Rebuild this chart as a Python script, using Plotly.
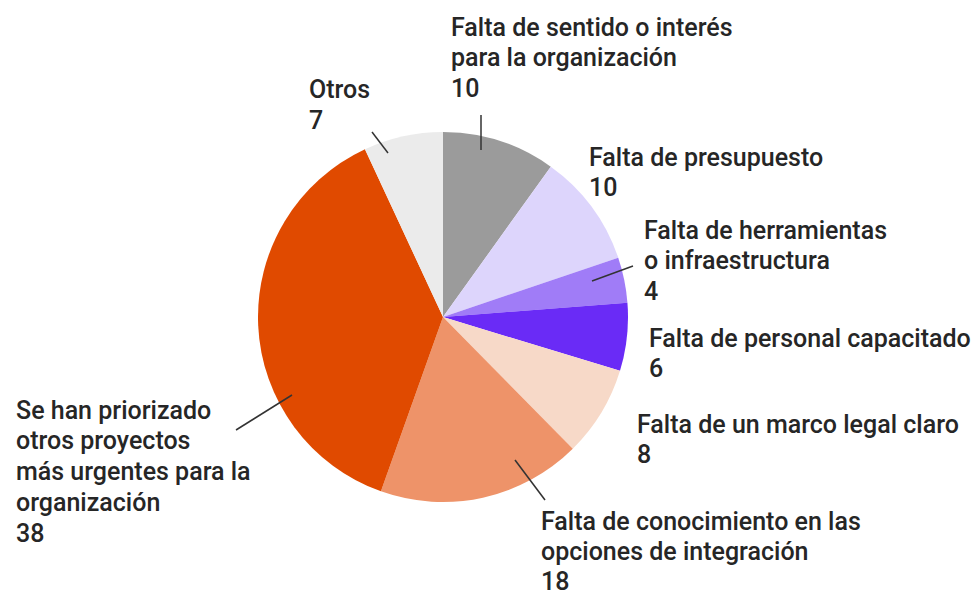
import plotly.graph_objects as go

W, H = 980, 596
OFF = 8  # page body margin offset

labels = [
    "Falta de sentido o interés para la organización",
    "Falta de presupuesto",
    "Falta de herramientas o infraestructura",
    "Falta de personal capacitado",
    "Falta de un marco legal claro",
    "Falta de conocimiento en las opciones de integración",
    "Se han priorizado otros proyectos más urgentes para la organización",
    "Otros",
]
values = [10, 10, 4, 6, 8, 18, 38, 7]
colors = ["#9b9b9b", "#ddd5fc", "#a07cf7", "#6a2bf6", "#f7d9c8", "#ee9369", "#e04a00", "#ebebeb"]

# label text lines (wrapped as in the reference)
label_lines = [
    ["Falta de sentido o interés", "para la organización"],
    ["Falta de presupuesto"],
    ["Falta de herramientas", "o infraestructura"],
    ["Falta de personal capacitado"],
    ["Falta de un marco legal claro"],
    ["Falta de conocimiento en las", "opciones de integración"],
    ["Se han priorizado", "otros proyectos", "más urgentes para la", "organización"],
    ["Otros"],
]

# layout: label anchor (left x, first-line center y) in pixels
label_pos = [(450, 27), (588, 157), (643, 230), (648, 338), (636, 424), (540, 521), (15, 410), (308, 90)]
# line spacing per label
line_h = [30.8, 30.8, 30.8, 30.8, 30.8, 30.0, 30.8, 30.8]
# leader lines in pixels (None = no line)
leaders = [((481, 115), (481, 150)), None, ((592, 281), (633, 266)), None, None,
           ((515, 460), (545, 500)), ((236, 430), (292, 395)), ((372, 132), (388, 153))]

FONT = dict(family="Roboto, 'Noto Sans', sans-serif", size=25, color="#262626", weight=500)

cx, cy, r = 443, 317, 185

def px(x):
    return (x - OFF) / W

def py(y):
    return 1 - (y - OFF) / H

fig = go.Figure(go.Pie(
    labels=labels,
    values=values,
    marker=dict(colors=colors, line=dict(width=0)),
    sort=False,
    direction="clockwise",
    rotation=0,
    textinfo="none",
    hoverinfo="label+value",
    domain=dict(x=[px(cx - r), px(cx + r)], y=[py(cy + r), py(cy - r)]),
    showlegend=False,
))

annotations = []
for lines, v, (lx, ly), lh in zip(label_lines, values, label_pos, line_h):
    for i, t in enumerate(lines + [str(v)]):
        annotations.append(dict(
            x=px(lx), y=py(ly + i * lh), xref="paper", yref="paper",
            xanchor="left", yanchor="middle", text=t, showarrow=False,
            font=FONT, align="left", borderpad=0,
        ))

shapes = []
for ld in leaders:
    if ld is None:
        continue
    (x0, y0), (x1, y1) = ld
    shapes.append(dict(type="line", xref="paper", yref="paper",
                       x0=px(x0), y0=py(y0), x1=px(x1), y1=py(y1),
                       line=dict(color="#333333", width=1.5)))

fig.update_layout(
    width=W, height=H,
    margin=dict(l=0, r=0, t=0, b=0),
    paper_bgcolor="white",
    plot_bgcolor="white",
    annotations=annotations,
    shapes=shapes,
)

fig.write_html("out.html")
